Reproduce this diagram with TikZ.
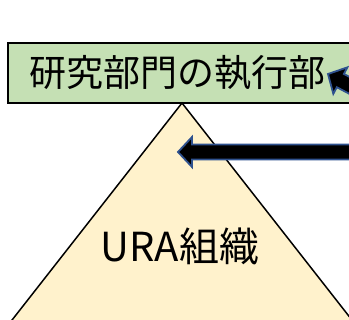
\documentclass[tikz,border=0pt]{standalone}
\usepackage{fontspec}
\setmainfont{Noto Sans CJK JP}
\usetikzlibrary{positioning}
\definecolor{execgreen}{HTML}{C5E0B4}
\definecolor{pyramidyellow}{HTML}{FFF2CC}
\definecolor{arrowblue}{HTML}{2F528F}

% block arrow: tip, angle of the tail, length
\newcommand{\blockarrow}[3]{%
  \begin{scope}[shift={(#1)},rotate=#2]
    \draw[block] (0,0) -- (14,-15) -- (14,-7.5) -- (#3,-7.5) -- (#3,7.5)
    -- (14,7.5) -- (14,15) -- cycle;
  \end{scope}}

\begin{document}
\begin{tikzpicture}[x=1pt,y=-1pt]
    \tikzstyle{box}=[draw,line width=1.8pt,fill=execgreen];
    \tikzstyle{pyramid}=[draw,line width=1.5pt,fill=pyramidyellow,line join=miter];
    \tikzstyle{block}=[draw=arrowblue,line width=1.8pt,fill=black,line join=miter];
    \tikzstyle{title}=[inner sep=0pt,font=\fontsize{37}{40}\selectfont];
    \tikzstyle{org}=[inner sep=0pt,font=\fontsize{40}{44}\selectfont];

    \clip (0,0) rectangle (349,320);

    \node (exec) [box,anchor=west,minimum width=360pt,minimum height=60pt]
    at (7,73) {}; \node (execlabel) [title] at (178,73) {研究部門の執行部};

    \coordinate (apex) at (182,103);
    \draw[pyramid] (apex) -- (-3.6,340) -- (367.6,340) -- cycle;
    \node (ura) [org] at (180,246) {URA組織};

    \coordinate (tipA) at (328,74); \coordinate (tipB) at (178,152);
    \blockarrow{tipA}{-28}{80}
    \blockarrow{tipB}{0}{200}
  \end{tikzpicture}
\end{document}
